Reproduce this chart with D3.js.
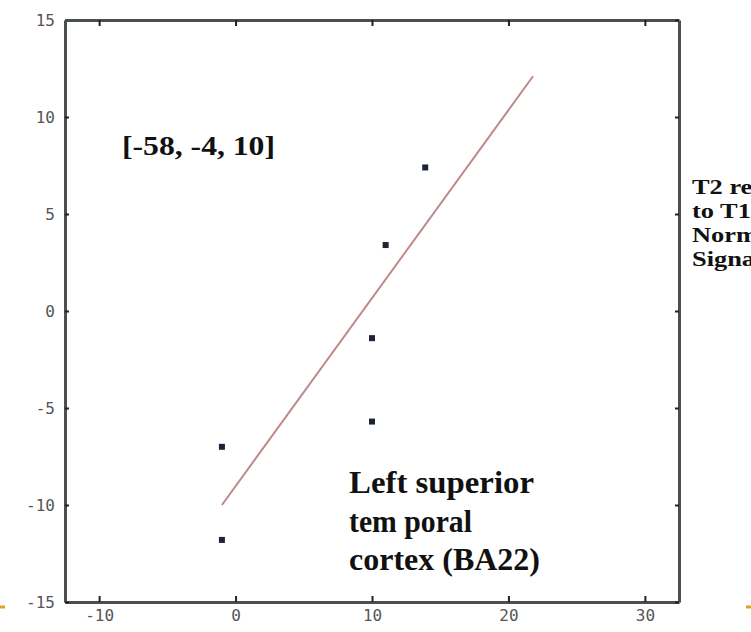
<!DOCTYPE html>
<html>
<head>
<meta charset="utf-8">
<script src="https://d3js.org/d3.v7.min.js"></script>
<style>
  body { margin: 0; background: #fff; }
  svg { display: block; }
</style>
</head>
<body>
<div id="wrap"></div>
<script>
var width = 751;
var height = 632;

// scatter points
var xVals = [-1, -1, 10, 10, 11, 13.9];
var yVals = [-7.0, -11.8, -1.4, -5.7, 3.4, 7.4];

// fitted line end points
var fitX = [-1, 21.8];
var fitY = [-10, 12.1];

var xTicks = [-10, 0, 10, 20, 30];
var yTicks = [-15, -10, -5, 0, 5, 10, 15];

var coordLabel = "[-58, -4, 10]";
var regionLines = ["Left superior", "tem poral", "cortex (BA22)"];
var regionWidths = [185, 123, 191];
var sideLines = ["T2 relative", "to T1", "Normalized", "Signal"];

var margin = {left: 65, right: 72, top: 20, bottom: 30};

var x = d3.scaleLinear().domain([-12.5, 32.5]).range([margin.left, width - margin.right]);
var y = d3.scaleLinear().domain([-15, 15]).range([height - margin.bottom, margin.top]);

var svg = d3.select('#wrap').append('svg')
  .attr('width', width)
  .attr('height', height);

var axisColor = '#4a4f4f';

// axes, ticks pointing inward like matlab
var axBottom = svg.append('g')
  .attr('transform', `translate(0,${y(-15)})`)
  .call(d3.axisBottom(x).tickValues(xTicks).tickSizeInner(-6).tickSizeOuter(0).tickPadding(8));
var axLeft = svg.append('g')
  .attr('transform', `translate(${x(-12.5)},0)`)
  .call(d3.axisLeft(y).tickValues(yTicks).tickSizeInner(-4).tickSizeOuter(0).tickPadding(10));
var axTop = svg.append('g')
  .attr('transform', `translate(0,${y(15)})`)
  .call(d3.axisTop(x).tickValues(xTicks).tickSizeInner(-6).tickSizeOuter(0).tickFormat(''));
var axRight = svg.append('g')
  .attr('transform', `translate(${x(32.5)},0)`)
  .call(d3.axisRight(y).tickValues(yTicks).tickSizeInner(-4).tickSizeOuter(0).tickFormat(''));

[axBottom, axLeft, axTop, axRight].forEach(g => {
  g.select('.domain').attr('stroke', axisColor).attr('stroke-width', 3);
  g.selectAll('.tick line').attr('stroke', '#222').attr('stroke-width', 2);
  g.selectAll('.tick text')
    .attr('fill', '#555')
    .attr('font-family', 'DejaVu Sans Mono')
    .attr('font-size', 16)
    .text(function() { return d3.select(this).text().replace('−', '-'); });
});

// fit line
svg.append('line')
  .attr('x1', x(fitX[0])).attr('y1', y(fitY[0]))
  .attr('x2', x(fitX[1])).attr('y2', y(fitY[1]))
  .attr('stroke', '#c08a8a')
  .attr('stroke-width', 2);

// points
svg.append('g')
  .selectAll('rect')
  .data(xVals.map((d, i) => ({x: d, y: yVals[i]})))
  .join('rect')
    .attr('x', d => x(d.x) - 3)
    .attr('y', d => y(d.y) - 3)
    .attr('width', 6)
    .attr('height', 6)
    .attr('fill', '#1a2433');

// annotations
svg.append('text')
  .attr('x', 122).attr('y', 155)
  .attr('font-family', 'Liberation Serif')
  .attr('font-weight', 'bold')
  .attr('font-size', 28)
  .attr('textLength', 153)
  .attr('lengthAdjust', 'spacingAndGlyphs')
  .attr('fill', '#111')
  .text(coordLabel);

svg.append('g')
  .selectAll('text')
  .data(regionLines)
  .join('text')
    .attr('x', 349)
    .attr('y', (d, i) => 493 + i * 38.5)
    .attr('font-family', 'Liberation Serif')
    .attr('font-weight', 'bold')
    .attr('font-size', 31)
    .attr('textLength', (d, i) => regionWidths[i])
    .attr('lengthAdjust', 'spacingAndGlyphs')
    .attr('fill', '#111')
    .text(d => d);

// side label, cut off by the right edge as in the source figure
svg.append('g')
  .attr('transform', 'translate(692,0) scale(1.2,1)')
  .selectAll('text')
  .data(sideLines)
  .join('text')
    .attr('x', 0)
    .attr('y', (d, i) => 194 + i * 24)
    .attr('font-family', 'Liberation Serif')
    .attr('font-weight', 'bold')
    .attr('font-size', 22)
    .attr('fill', '#111')
    .text(d => d);

// small orange marks at the bottom edges
svg.append('line').attr('x1', 0).attr('x2', 5).attr('y1', 607).attr('y2', 607)
  .attr('stroke', '#e0a020').attr('stroke-width', 3);
svg.append('line').attr('x1', 746).attr('x2', 751).attr('y1', 607).attr('y2', 607)
  .attr('stroke', '#e0a020').attr('stroke-width', 3);
</script>
</body>
</html>
